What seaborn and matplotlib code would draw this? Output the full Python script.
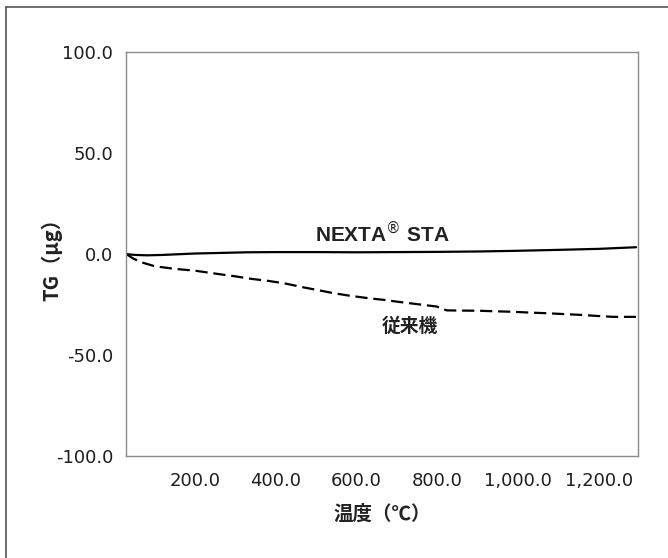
import numpy as np
import pandas as pd
import matplotlib
matplotlib.use("Agg")
import matplotlib.pyplot as plt
from matplotlib.lines import Line2D
import seaborn as sns

# ---- data ----
nexta_temp = [30, 50, 82, 120, 200, 329, 400, 500, 600, 700, 800, 900, 988, 1100, 1200, 1235, 1292]
nexta_tg = [0.0, -0.4, -0.6, -0.4, 0.3, 0.9, 1.0, 1.0, 0.9, 1.0, 1.1, 1.3, 1.6, 2.1, 2.6, 2.9, 3.4]

conv_temp = [30, 45, 66, 100, 150, 200, 263, 300, 338, 380, 420, 470, 502, 540, 584, 630, 667,
             700, 749, 798, 823, 860, 905, 950, 988, 1030, 1070, 1110, 1152, 1200, 1235, 1292]
conv_tg = [0.0, -2.0, -4.0, -6.0, -7.3, -8.2, -10.0, -11.0, -12.2, -13.2, -14.4, -16.5, -17.7,
           -19.2, -20.6, -21.8, -22.6, -23.5, -24.7, -25.9, -27.8, -27.9, -28.0, -28.3, -28.5,
           -28.9, -29.2, -29.6, -30.0, -30.6, -31.0, -31.0]

x_ticks = [200, 400, 600, 800, 1000, 1200]
x_tick_labels = ["200.0", "400.0", "600.0", "800.0", "1,000.0", "1,200.0"]
y_ticks = [-100, -50, 0, 50, 100]
y_tick_labels = ["-100.0", "-50.0", "0.0", "50.0", "100.0"]

series_names = ["NEXTA® STA", "従来機"]
x_label = "温度（℃）"
y_label = "TG（μg）"

# ---- style ----
sns.set_theme(style="white")
plt.rcParams['font.family'] = ['Noto Sans CJK JP', 'DejaVu Sans']
plt.rcParams['mathtext.fontset'] = 'dejavusans'

fig = plt.figure(figsize=(6.68, 5.58), dpi=100)
ax = fig.add_axes([0.1882, 0.1819, 0.9558 - 0.1882, 0.9073 - 0.1819])

df_n = pd.DataFrame({"temp": nexta_temp, "tg": nexta_tg})
df_c = pd.DataFrame({"temp": conv_temp, "tg": conv_tg})

sns.lineplot(data=df_n, x="temp", y="tg", ax=ax, color="black", linewidth=1.6)
sns.lineplot(data=df_c, x="temp", y="tg", ax=ax, color="black", linewidth=1.6,
             linestyle=(0, (5.5, 2.6)))

ax.set_xlim(28, 1298)
ax.set_ylim(-100, 100)
ax.set_xticks(x_ticks)
ax.set_xticklabels(x_tick_labels)
ax.set_yticks(y_ticks)
ax.set_yticklabels(y_tick_labels)

spine_col = "#8a8a8a"
for s in ax.spines.values():
    s.set_visible(True)
    s.set_color(spine_col)
    s.set_linewidth(1.0)

ax.tick_params(axis="both", direction="in", length=5, width=0.8, color=spine_col,
               labelsize=13, labelcolor="#1e1e1e")
ax.tick_params(axis="x", pad=11)
ax.tick_params(axis="y", pad=9)
for lab in ax.get_xticklabels() + ax.get_yticklabels():
    lab.set_family(['DejaVu Sans'])

ax.set_xlabel(x_label, fontsize=14, fontweight="bold", color="#222222", labelpad=11)
ax.set_ylabel(y_label, fontsize=14.5, fontweight="bold", color="#222222")
ax.yaxis.set_label_coords(-0.124, 0.5)

ax.text(663, 10.5, "NEXTA$^{\\circledR}$ STA", ha="center", va="center",
        fontsize=15, fontweight="bold", color="#222222",
        family=['Liberation Sans', 'DejaVu Sans'])
ax.text(732, -35.5, series_names[1], ha="center", va="center",
        fontsize=13.5, fontweight="bold", color="#222222")

# partial outer frame (left and top edges)
fig.add_artist(Line2D([6 / 668, 6 / 668], [0, 1 - 7 / 558], transform=fig.transFigure,
                      color="#555555", linewidth=1.2))
fig.add_artist(Line2D([6 / 668, 1], [1 - 7 / 558, 1 - 7 / 558], transform=fig.transFigure,
                      color="#555555", linewidth=1.2))

fig.savefig("out.png", dpi=100, facecolor="white")
